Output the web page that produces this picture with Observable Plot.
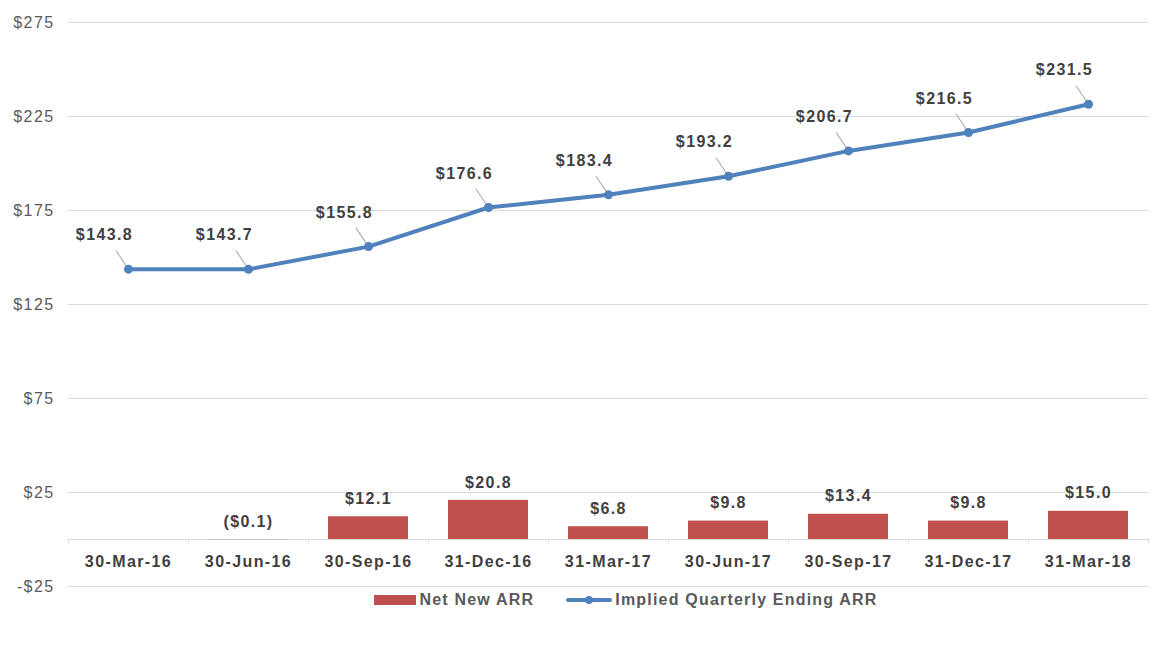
<!DOCTYPE html>
<html>
<head>
<meta charset="utf-8">
<script src="https://cdn.jsdelivr.net/npm/d3@7"></script>
<script src="https://cdn.jsdelivr.net/npm/@observablehq/plot@0.6"></script>
<style>
  body { margin: 0; background: #fff; font-family: "Liberation Sans", Arial, sans-serif; }
  #legend { display: flex; justify-content: center; align-items: center; gap: 32px; height: 20px; margin-top: -4px; padding-left: 80px;
    font: bold 16px "Liberation Sans", Arial, sans-serif; letter-spacing: 1.2px; color: #595959; }
  #legend span { display: inline-flex; align-items: center; gap: 3px; }
  svg text { letter-spacing: 1.4px; }
</style>
</head>
<body>
<div id="chart"></div>
<div id="legend">
  <span><svg width="42" height="10"><rect width="42" height="10" fill="#C0504D"/></svg>Net New ARR</span>
  <span><svg width="46" height="10"><line x1="2" y1="5" x2="44" y2="5" stroke="#4F81BD" stroke-width="4" stroke-linecap="round"/><circle cx="23" cy="5" r="4" fill="#4F81BD"/></svg>Implied Quarterly Ending ARR</span>
</div>
<script>
const categories = ["30-Mar-16", "30-Jun-16", "30-Sep-16", "31-Dec-16", "31-Mar-17", "30-Jun-17", "30-Sep-17", "31-Dec-17", "31-Mar-18"];
const netNewARR = [null, -0.1, 12.1, 20.8, 6.8, 9.8, 13.4, 9.8, 15.0];
const endingARR = [143.8, 143.7, 155.8, 176.6, 183.4, 193.2, 206.7, 216.5, 231.5];
const yTicks = [-25, 25, 75, 125, 175, 225, 275];

const bars = categories.map((c, i) => ({cat: c, v: netNewARR[i]})).filter(d => d.v != null);
const line = categories.map((c, i) => ({cat: c, v: endingARR[i]}));

const fmtVal = v => v < 0 ? `($${Math.abs(v).toFixed(1)})` : `$${v.toFixed(1)}`;
const fmtTick = d => d < 0 ? `-$${Math.abs(d)}` : `$${d}`;
const leader = {draw(context, l) { context.moveTo(0, 0); context.lineTo(0, -l); }};

const chart = Plot.plot({
  width: 1172,
  height: 594,
  marginLeft: 68,
  marginRight: 24,
  marginTop: 22,
  marginBottom: 8,
  style: {fontFamily: "Liberation Sans, Arial, sans-serif", fontSize: "16px", background: "#fff"},
  x: {type: "band", domain: categories, padding: 0, axis: null},
  y: {domain: [-25, 275], ticks: yTicks, tickFormat: fmtTick, tickSize: 0, tickPadding: 15, label: null},
  marks: [
    Plot.ruleY(yTicks, {stroke: "#d9d9d9", strokeWidth: 1}),
    Plot.axisY({ticks: yTicks, tickFormat: fmtTick, tickSize: 0, tickPadding: 14, label: null, color: "#595959", fontSize: 16}),
    Plot.ruleY([0], {stroke: "#d9d9d9", strokeWidth: 1}),
    Plot.ruleX(categories, {x: d => d, y1: 0, y2: -2.2, dx: -60, stroke: "#d9d9d9"}),
    Plot.ruleX(categories.slice(-1), {x: d => d, y1: 0, y2: -2.2, dx: 60, stroke: "#d9d9d9"}),
    Plot.text(categories, {x: d => d, y: 0, dy: 22, text: d => d, fill: "#404040", fontWeight: "bold", fontSize: 16}),
    Plot.barY(bars, {x: "cat", y: "v", fill: "#C0504D", insetLeft: 20, insetRight: 20}),
    Plot.text(bars, {x: "cat", y: d => Math.max(d.v, 0), dy: -18, text: d => fmtVal(d.v), fill: "#404040", fontWeight: "bold", fontSize: 16}),
    Plot.line(line, {x: "cat", y: "v", stroke: "#4F81BD", strokeWidth: 4, strokeLinejoin: "round"}),
    Plot.vector(line, {x: "cat", y: "v", length: 22, rotate: -34, anchor: "start", shape: leader, stroke: "#a6a6a6", strokeWidth: 1}),
    Plot.dot(line, {x: "cat", y: "v", r: 4.5, fill: "#4F81BD"}),
    Plot.text(line, {x: "cat", y: "v", dx: -24, dy: -34, text: d => fmtVal(d.v), fill: "#404040", fontWeight: "bold", fontSize: 16})
  ]
});
document.getElementById("chart").appendChild(chart);
</script>
</body>
</html>
